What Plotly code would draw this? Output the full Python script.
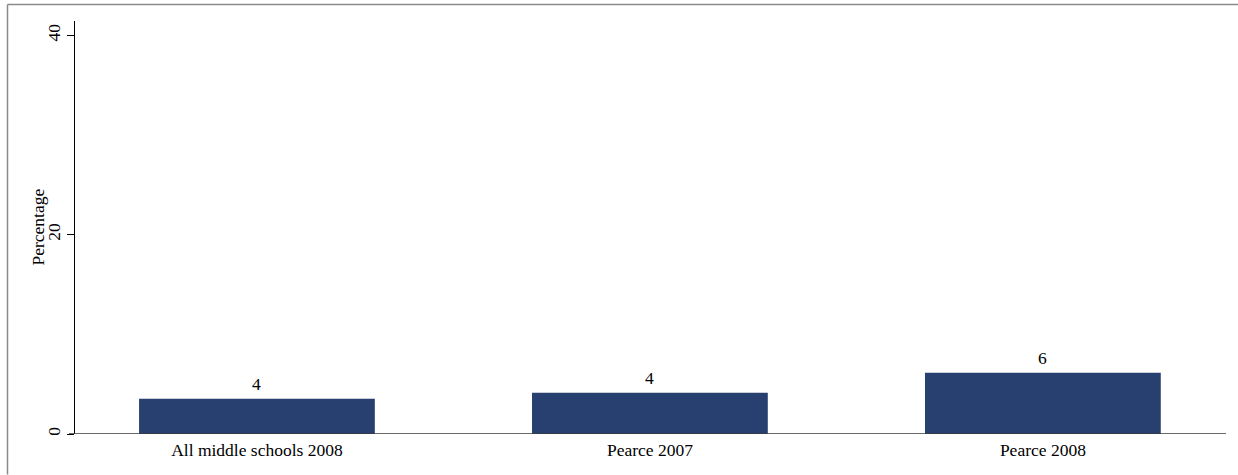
import plotly.graph_objects as go

categories = ["All middle schools 2008", "Pearce 2007", "Pearce 2008"]
values = [3.53, 4.13, 6.14]
y_ticks = [0, 20, 40]
y_title = "Percentage"

W, H = 1238, 475
L, R, T, B = 75, 1226, 21, 434.5
pw, ph = R - L, B - T

bar_color = "#27406F"
font_family = "Liberation Serif, Times New Roman, serif"
fs = 17.5

fig = go.Figure()
fig.add_trace(go.Bar(
    x=list(range(len(categories))), y=values, width=0.6,
    marker=dict(color=bar_color, line=dict(width=0)),
    hoverinfo="skip",
))

for i, v in enumerate(values):
    fig.add_annotation(x=i, y=v, text=f"{v:.0f}", showarrow=False,
                       xref="x", yref="y", yanchor="bottom", yshift=3,
                       font=dict(family=font_family, size=fs, color="black"))

def px_x(x):
    return (x - L) / pw

def px_y(y):
    return (B - y) / ph

# y-axis title placed as rotated text
fig.add_annotation(x=px_x(37), y=0.5, xref="paper", yref="paper", text=y_title,
                   textangle=-90, showarrow=False, xanchor="center", yanchor="middle",
                   font=dict(family=font_family, size=fs, color="black"))

shapes = [
    # x axis baseline
    dict(type="line", xref="paper", yref="y", x0=px_x(69), x1=px_x(1226), y0=0, y1=0,
         line=dict(color="#3a3a3a", width=1.4)),
    # outer frame (top and left)
    dict(type="line", xref="paper", yref="paper", x0=px_x(7.5), x1=px_x(1238),
         y0=px_y(4.5), y1=px_y(4.5), line=dict(color="#8a8a8a", width=1.5)),
    dict(type="line", xref="paper", yref="paper", x0=px_x(7.5), x1=px_x(7.5),
         y0=px_y(4.5), y1=px_y(475), line=dict(color="#8a8a8a", width=1.5)),
]

fig.update_layout(
    width=W, height=H,
    margin=dict(l=L, r=W - R, t=T, b=H - B, pad=0),
    paper_bgcolor="white", plot_bgcolor="white",
    showlegend=False,
    font=dict(family=font_family, size=fs, color="black"),
    shapes=shapes,
    xaxis=dict(
        range=[-0.463, 2.466], tickmode="array", tickvals=list(range(len(categories))),
        ticktext=categories, showgrid=False, zeroline=False, showline=False,
        ticks="", ticklen=0, ticklabelstandoff=3,
        tickfont=dict(size=fs, family=font_family, color="black"),
        fixedrange=True,
    ),
    yaxis=dict(
        range=[0, (B - T) / 9.975], tickmode="array", tickvals=y_ticks,
        ticktext=[str(t) for t in y_ticks], tickangle=-90,
        showgrid=False, zeroline=False, showline=True, linecolor="black", linewidth=1,
        ticks="outside", ticklen=7, tickcolor="black", tickwidth=1,
        tickfont=dict(size=fs, family=font_family, color="black"),
        fixedrange=True,
    ),
)

fig.write_html("out.html", config={"displayModeBar": False},
               post_script="document.body.style.margin='0';document.body.style.overflow='hidden';")
